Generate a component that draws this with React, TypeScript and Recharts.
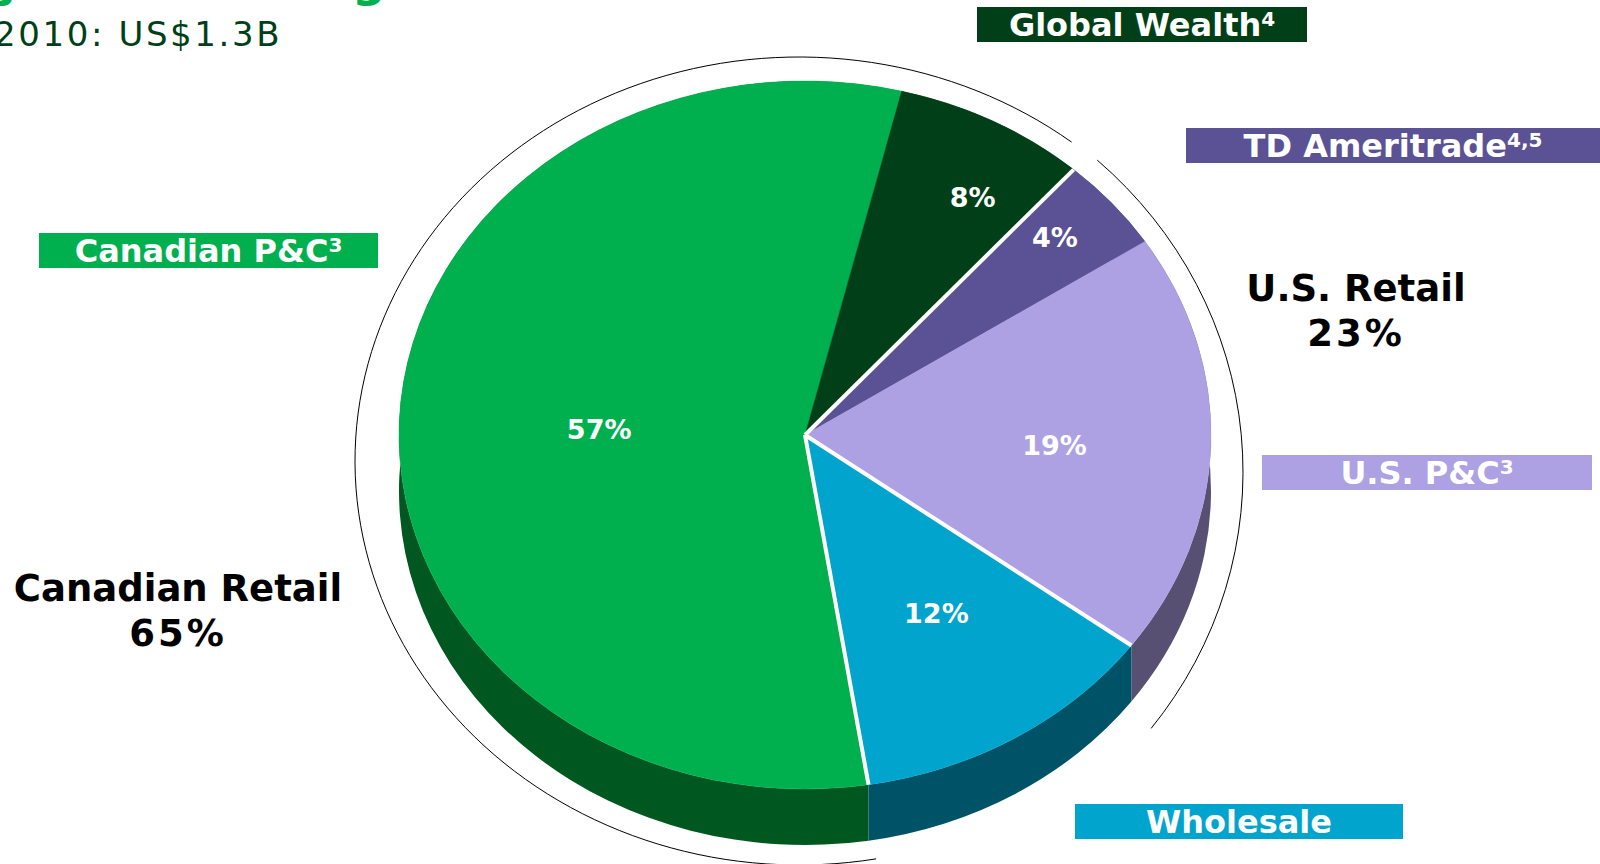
import { PieChart, Pie, Cell } from 'recharts';

const FONT = '"DejaVu Sans", sans-serif';

// clockwise from the Canadian P&C / Wholesale boundary
const segments = ['Canadian P&C', 'Global Wealth', 'TD Ameritrade', 'U.S. P&C', 'Wholesale'];
const shares = [56.5, 7.7, 4.3, 19.4, 12.4];
const shareLabels = ['57%', '8%', '4%', '19%', '12%'];
const faceColors = ['#00b04f', '#003f17', '#5a5294', '#ada1e3', '#00a4cc'];
const sideColors = ['#005720', '#003f17', '#5a5294', '#575072', '#005366'];
const whiteEdges = [true, false, true, false, true];
const labelReach = [0.5, 0.79, 0.83, 0.615, 0.6];
const labelNudgeX = [-3, 19, -5, 0, 5];
const labelNudgeY = [2, 10, -5, 4, -3];

// outer brackets, read off the thin arcs (the U.S. one sits on its own, rounder ellipse)
const canadianBracket = [
  { name: 'Canadian Retail', value: 63.3 },
  { name: '', value: 36.7 },
];
const usBracket = [
  { name: 'U.S. Retail', value: 23.7 },
  { name: '', value: 76.3 },
];

const faceData = segments.map((name, i) => ({ name, value: shares[i], edge: whiteEdges[i] }));

const CX = 805;
const CY = 435;
const RADIUS = 406;
const SQUASH = 354 / 406;
const DEPTH = 56;
const START = 90 - 171;

const RAD = Math.PI / 180;
const ex = (cx: number, r: number, a: number) => cx + r * Math.cos(a * RAD);
const ey = (cy: number, r: number, a: number, k: number) => cy - r * k * Math.sin(a * RAD);

function arcTo(r: number, k: number, from: number, to: number, x: number, y: number) {
  const large = Math.abs(to - from) > 180 ? 1 : 0;
  const sweep = to < from ? 1 : 0;
  return `A ${r} ${r * k} 0 ${large} ${sweep} ${x} ${y}`;
}

function FaceSlice(p: any) {
  const { cx, cy, outerRadius: r, startAngle: a, endAngle: b, fill } = p;
  const d = `M ${cx} ${cy} L ${ex(cx, r, a)} ${ey(cy, r, a, SQUASH)} ${arcTo(r, SQUASH, a, b, ex(cx, r, b), ey(cy, r, b, SQUASH))} Z`;
  return <path d={d} fill={fill} stroke={fill} strokeWidth={0.5} />;
}

function SideSlice(p: any) {
  const { cx, cy, outerRadius: r, startAngle: a, endAngle: b, fill } = p;
  const d = `M ${ex(cx, r, a)} ${ey(cy, r, a, SQUASH)} ${arcTo(r, SQUASH, a, b, ex(cx, r, b), ey(cy, r, b, SQUASH))} L ${ex(cx, r, b)} ${ey(cy, r, b, SQUASH) + DEPTH} ${arcTo(r, SQUASH, b, a, ex(cx, r, a), ey(cy, r, a, SQUASH) + DEPTH)} Z`;
  return <path d={d} fill={fill} />;
}

function EdgeLine(p: any) {
  const { cx, cy, outerRadius: r, startAngle: a, edge } = p;
  if (!edge) return <g />;
  return <line x1={cx} y1={cy} x2={ex(cx, r, a)} y2={ey(cy, r, a, SQUASH)} stroke="#fff" strokeWidth={4} />;
}

const bracketArc = (k: number) => (p: any) => {
  const { cx, cy, outerRadius: r, startAngle: a, endAngle: b, name } = p;
  if (!name) return <g />;
  const d = `M ${ex(cx, r, a)} ${ey(cy, r, a, k)} ${arcTo(r, k, a, b, ex(cx, r, b), ey(cy, r, b, k))}`;
  return <path d={d} fill="none" stroke="#000" strokeWidth={1} />;
};

function ShareLabel(p: any) {
  const { cx, cy, outerRadius: r, midAngle, index } = p;
  const reach = r * labelReach[index];
  return (
    <text
      x={ex(cx, reach, midAngle) + labelNudgeX[index]}
      y={ey(cy, reach, midAngle, SQUASH) + labelNudgeY[index]}
      fill="#fff"
      fontFamily={FONT}
      fontWeight="bold"
      fontSize={27}
      textAnchor="middle"
      dominantBaseline="central"
    >
      {shareLabels[index]}
    </text>
  );
}

function Tag({ left, top, width, color, text, sup }: any) {
  return (
    <div
      style={{
        position: 'absolute',
        left,
        top,
        width,
        height: 35,
        lineHeight: '36px',
        background: color,
        color: '#fff',
        fontFamily: FONT,
        fontWeight: 'bold',
        fontSize: 32,
        textAlign: 'center',
        whiteSpace: 'nowrap',
      }}
    >
      {text}
      {sup && <span style={{ fontSize: 20, position: 'relative', top: -10 }}>{sup}</span>}
    </div>
  );
}

function Total({ left, top, name, value }: any) {
  return (
    <div
      style={{
        position: 'absolute',
        left,
        top,
        width: 400,
        textAlign: 'center',
        fontFamily: FONT,
        fontWeight: 'bold',
        fontSize: 37,
        lineHeight: '45px',
        color: '#000',
      }}
    >
      {name}
      <br />
      <span style={{ letterSpacing: 3 }}>{value}</span>
    </div>
  );
}

export default function App() {
  return (
    <div style={{ position: 'absolute', left: 0, top: 0, width: 1600, height: 864, background: '#fff', overflow: 'hidden' }}>
      <PieChart width={1600} height={864} margin={{ top: 0, right: 0, bottom: 0, left: 0 }}>
        <Pie
          data={canadianBracket}
          dataKey="value"
          cx={799}
          cy={461}
          outerRadius={444}
          startAngle={90 - 170}
          endAngle={90 - 170 - 360}
          isAnimationActive={false}
          shape={bracketArc(404 / 444)}
        />
        <Pie
          data={usBracket}
          dataKey="value"
          cx={799}
          cy={472}
          outerRadius={444}
          startAngle={90 - 42.2}
          endAngle={90 - 42.2 - 360}
          isAnimationActive={false}
          shape={bracketArc(421 / 444)}
        />
        <Pie
          data={faceData}
          dataKey="value"
          cx={CX}
          cy={CY}
          outerRadius={RADIUS}
          startAngle={START}
          endAngle={START - 360}
          isAnimationActive={false}
          shape={SideSlice}
        >
          {sideColors.map((c) => (
            <Cell key={c} fill={c} />
          ))}
        </Pie>
        <Pie
          data={faceData}
          dataKey="value"
          cx={CX}
          cy={CY}
          outerRadius={RADIUS}
          startAngle={START}
          endAngle={START - 360}
          isAnimationActive={false}
          shape={FaceSlice}
        >
          {faceColors.map((c) => (
            <Cell key={c} fill={c} />
          ))}
        </Pie>
        <Pie
          data={faceData}
          dataKey="value"
          cx={CX}
          cy={CY}
          outerRadius={RADIUS}
          startAngle={START}
          endAngle={START - 360}
          isAnimationActive={false}
          shape={EdgeLine}
          label={ShareLabel}
          labelLine={false}
        />
      </PieChart>

      <div style={{ position: 'absolute', left: -70, top: -48, fontFamily: FONT, fontWeight: 'bold', fontSize: 47, color: '#00b04f', whiteSpace: 'nowrap' }}>
        Adjusted Earnings
      </div>
      <div style={{ position: 'absolute', left: -6, top: 14, fontFamily: FONT, fontSize: 34, letterSpacing: 2.6, color: '#003f17', whiteSpace: 'nowrap' }}>
        2010: US$1.3B
      </div>

      <Tag left={977} top={7} width={330} color="#003f17" text="Global Wealth" sup="4" />
      <Tag left={1186} top={128} width={414} color="#5a5294" text="TD Ameritrade" sup="4,5" />
      <Tag left={39} top={233} width={339} color="#00b04f" text="Canadian P&C" sup="3" />
      <Tag left={1262} top={455} width={330} color="#ada1e3" text="U.S. P&C" sup="3" />
      <Tag left={1075} top={804} width={328} color="#00a4cc" text="Wholesale" />

      <Total left={-22} top={566} name="Canadian Retail" value="65%" />
      <Total left={1156} top={266} name="U.S. Retail" value="23%" />
    </div>
  );
}
